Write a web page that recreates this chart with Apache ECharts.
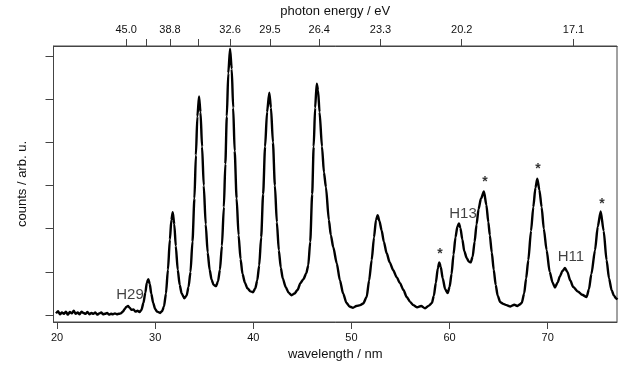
<!DOCTYPE html>
<html>
<head>
<meta charset="utf-8">
<script src="https://cdn.jsdelivr.net/npm/echarts@6/dist/echarts.min.js"></script>
<style>html,body{margin:0;padding:0;background:#fff}#main{width:622px;height:367px}</style>
</head>
<body>
<div id="main"></div>
<script>
// spectrum, wavelength in nm / counts in arb. units (1 unit = one y tick)
var wavelength = [
    19.9, 20.1, 20.3, 20.5, 20.7, 20.9, 21.1, 21.3, 21.5, 21.7, 21.9, 22.1, 22.3, 22.5, 22.7, 22.9, 23.1,
    23.3, 23.5, 23.7, 23.9, 24.1, 24.3, 24.5, 24.7, 24.9, 25.1, 25.3, 25.5, 25.7, 25.9, 26.1, 26.3, 26.5,
    26.7, 26.9, 27.05, 27.23, 27.4, 27.6, 27.8, 28.0, 28.2, 28.4, 28.6, 28.8, 29.0, 29.15, 29.3, 29.45,
    29.6, 29.8, 30.0, 30.2, 30.5, 30.7,
    30.9, 31.1, 31.3, 31.5, 31.65, 31.79, 31.95, 32.1, 32.3, 32.5, 32.7, 32.97, 33.2,
    33.4, 33.6, 33.8, 34.0, 34.15, 34.3, 34.47, 34.62, 34.78, 34.95, 35.15, 35.35, 35.55, 35.75, 35.95,
    36.2, 36.4, 36.6,
    36.8, 37.0, 37.15, 37.3, 37.45, 37.63, 37.8, 37.95, 38.1, 38.3, 38.5, 38.7, 38.9, 39.15, 39.4, 39.7,
    39.97, 40.2, 40.4,
    40.6, 40.8, 41.0, 41.2, 41.4, 41.63, 41.8, 42.0, 42.2, 42.4, 42.6, 42.8, 43.0, 43.3, 43.6, 43.9,
    44.2, 44.5, 44.8, 45.1, 45.4, 45.6,
    45.8, 46.0, 46.15, 46.3, 46.46, 46.6, 46.75, 47.0, 47.2, 47.4, 47.7, 47.9, 48.15, 48.5, 48.83, 49.15,
    49.5, 49.8, 50.16, 50.5, 50.9,
    51.2, 51.55, 51.8, 52.06, 52.3, 52.5, 52.67, 52.85, 53.08, 53.3, 53.59, 53.9, 54.26, 54.6, 54.95,
    55.3, 55.63, 56.0, 56.3, 56.7, 57.1, 57.5, 57.9, 58.2,
    58.4, 58.6, 58.8, 58.95, 59.1, 59.3, 59.55, 59.81, 60.0, 60.2, 60.4, 60.6, 60.8, 60.96, 61.1, 61.3,
    61.5, 61.75, 61.95, 62.15, 62.35, 62.55, 62.75, 62.95, 63.2, 63.5, 63.75, 63.95, 64.1, 64.3, 64.5,
    64.7, 64.9, 65.16, 65.47, 65.8, 66.2, 66.6, 66.9,
    67.1, 67.35, 67.6, 67.8, 68.02, 68.3, 68.53, 68.75, 68.94, 69.15, 69.38, 69.6, 69.89, 70.2, 70.5,
    70.74, 71.0, 71.25, 71.5, 71.76, 72.0, 72.3, 72.6, 73.11, 73.5, 73.97, 74.2, 74.45, 74.82, 75.1,
    75.4, 75.7, 76.0, 76.25, 76.51, 76.75, 76.95, 77.1
];
var counts = [
    0.04, 0.09, 0.02, 0.06, 0.03, 0.08, 0.01, 0.07, 0.04, 0.10, 0.03, 0.06, 0.02, 0.08, 0.05, 0.03, 0.07,
    0.02, 0.05, 0.03, 0.06, 0.01, 0.04, 0.06, 0.02, 0.03, 0.05, 0.01, 0.03, 0.02, 0.04, 0.02, 0.03, 0.04,
    0.08, 0.14, 0.19, 0.21, 0.17, 0.12, 0.13, 0.08, 0.10, 0.07, 0.12, 0.28, 0.52, 0.75, 0.83, 0.72,
    0.50, 0.28, 0.14, 0.08, 0.05, 0.09,
    0.20, 0.50, 1.05, 1.75, 2.20, 2.38, 2.10, 1.60, 1.05, 0.70, 0.50, 0.39, 0.45,
    0.65, 1.00, 1.70, 2.70, 3.70, 4.60, 5.06, 4.70, 3.90, 3.00, 2.10, 1.45, 1.05, 0.82, 0.70,
    0.67, 0.78, 1.05,
    1.60, 2.50, 3.50, 4.60, 5.60, 6.17, 5.70, 4.80, 3.80, 2.70, 1.85, 1.30, 0.95, 0.75, 0.62, 0.55,
    0.53, 0.62, 0.80,
    1.15, 1.80, 2.80, 3.90, 4.70, 5.15, 4.80, 4.00, 3.00, 2.15, 1.50, 1.10, 0.85, 0.65, 0.52, 0.46,
    0.50, 0.58, 0.74, 0.83, 0.97, 1.15,
    1.70, 2.80, 3.90, 4.80, 5.36, 5.20, 4.70, 3.90, 3.30, 2.96, 2.20, 1.85, 1.57, 1.20, 0.80, 0.50,
    0.28, 0.20, 0.17, 0.21, 0.23,
    0.27, 0.42, 0.80, 1.27, 1.80, 2.20, 2.31, 2.18, 1.96, 1.70, 1.43, 1.22, 1.04, 0.88, 0.74,
    0.58, 0.42, 0.30, 0.23, 0.18, 0.21, 0.16, 0.22, 0.28,
    0.45, 0.75, 1.08, 1.22, 1.12, 0.85, 0.60, 0.51, 0.65, 0.95, 1.40, 1.80, 2.05, 2.12, 2.02, 1.75,
    1.48, 1.32, 1.24, 1.22, 1.35, 1.70, 2.10, 2.45, 2.70, 2.86, 2.55, 2.15, 1.85, 1.45, 1.05,
    0.70, 0.45, 0.30, 0.26, 0.23, 0.20, 0.24, 0.21,
    0.24, 0.28, 0.50, 0.85, 1.27, 1.95, 2.50, 2.95, 3.16, 2.90, 2.50, 2.00, 1.50, 1.00, 0.75,
    0.64, 0.75, 0.90, 1.02, 1.09, 1.00, 0.80, 0.65, 0.54, 0.47, 0.42, 0.60, 0.95, 1.50, 2.05,
    2.40, 1.95, 1.27, 0.85, 0.58, 0.45, 0.39, 0.36
];

var xTicks = [20, 30, 40, 50, 60, 70];
var yTicks = [0, 1, 2, 3, 4, 5, 6];
// top axis: tick positions (nm) and the photon energy printed there
var energyTickPos = [27.04, 29.14, 31.51, 34.34, 37.63, 41.7, 46.72, 52.96, 61.24, 72.63];
var energyLabels = ['45.0', '', '38.8', '', '32.6', '29.5', '26.4', '23.3', '20.2', '17.1'];

// harmonic labels and asterisks
var annoLambda = [27.44, 61.37, 72.37, 59.02, 63.61, 69.0, 75.53];
var annoCount = [0.46, 2.35, 1.34, 1.41, 3.07, 3.37, 2.58];
var annoText = ['H29', 'H13', 'H11', '*', '*', '*', '*'];

var myChart = echarts.init(document.getElementById('main'));

var font = 'Arial, "Liberation Sans", sans-serif';
var axisColor = '#444';

var lineData = wavelength.map(function (w, i) { return [w, counts[i]]; });
var annoData = annoText.map(function (t, i) {
    return {
        value: [annoLambda[i], annoCount[i]],
        name: t,
        label: t === '*' ? { fontWeight: 'bold', fontSize: 14, color: '#000' } : {}
    };
});
var labeledPos = energyTickPos.filter(function (p, i) { return energyLabels[i] !== ''; });

var option = {
    animation: false,
    backgroundColor: '#fff',
    grid: {
        left: 53.5,
        right: 5,
        top: 45,
        bottom: 45,
        show: true,
        borderColor: axisColor,
        borderWidth: 1
    },
    xAxis: [{
        type: 'value',
        position: 'bottom',
        min: 19.64,
        max: 77.06,
        name: 'wavelength / nm',
        nameLocation: 'middle',
        nameGap: 26,
        nameTextStyle: { fontFamily: font, fontSize: 13, color: '#111' },
        splitLine: { show: false },
        axisLine: { show: true, onZero: false, lineStyle: { color: axisColor, width: 1 } },
        axisTick: { show: true, inside: false, length: 7, customValues: xTicks, lineStyle: { color: axisColor } },
        axisLabel: { customValues: xTicks, margin: 10, fontFamily: font, fontSize: 11, color: '#111' }
    }, {
        type: 'value',
        position: 'top',
        min: 19.64,
        max: 77.06,
        name: 'photon energy / eV',
        nameLocation: 'middle',
        nameGap: 28,
        nameTextStyle: { fontFamily: font, fontSize: 13, color: '#111' },
        splitLine: { show: false },
        axisLine: { show: true, onZero: false, lineStyle: { color: axisColor, width: 1 } },
        axisTick: { show: true, inside: false, length: 7, customValues: energyTickPos, lineStyle: { color: axisColor } },
        axisLabel: {
            customValues: labeledPos,
            margin: 11,
            fontFamily: font,
            fontSize: 11,
            color: '#111',
            formatter: function (v) {
                for (var i = 0; i < energyTickPos.length; i++) {
                    if (Math.abs(energyTickPos[i] - v) < 1e-6) return energyLabels[i];
                }
                return '';
            }
        }
    }],
    yAxis: {
        type: 'value',
        min: -0.16,
        max: 6.23,
        name: 'counts / arb. u.',
        nameLocation: 'middle',
        nameGap: 25,
        nameTextStyle: { fontFamily: font, fontSize: 13, color: '#111' },
        splitLine: { show: false },
        axisLine: { show: true, onZero: false, lineStyle: { color: axisColor, width: 1 } },
        axisTick: { show: true, inside: false, length: 8, customValues: yTicks, lineStyle: { color: axisColor } },
        axisLabel: { show: false }
    },
    series: [{
        type: 'line',
        xAxisIndex: 0,
        data: lineData,
        showSymbol: false,
        smooth: 0.25,
        smoothMonotone: 'x',
        clip: true,
        lineStyle: { color: '#000', width: 2.4 }
    }, {
        type: 'scatter',
        xAxisIndex: 0,
        data: annoData,
        symbolSize: 0,
        silent: true,
        label: {
            show: true,
            position: 'inside',
            formatter: '{b}',
            fontFamily: font,
            fontSize: 15,
            color: '#111'
        }
    }]
};
myChart.setOption(option);
</script>
</body>
</html>
